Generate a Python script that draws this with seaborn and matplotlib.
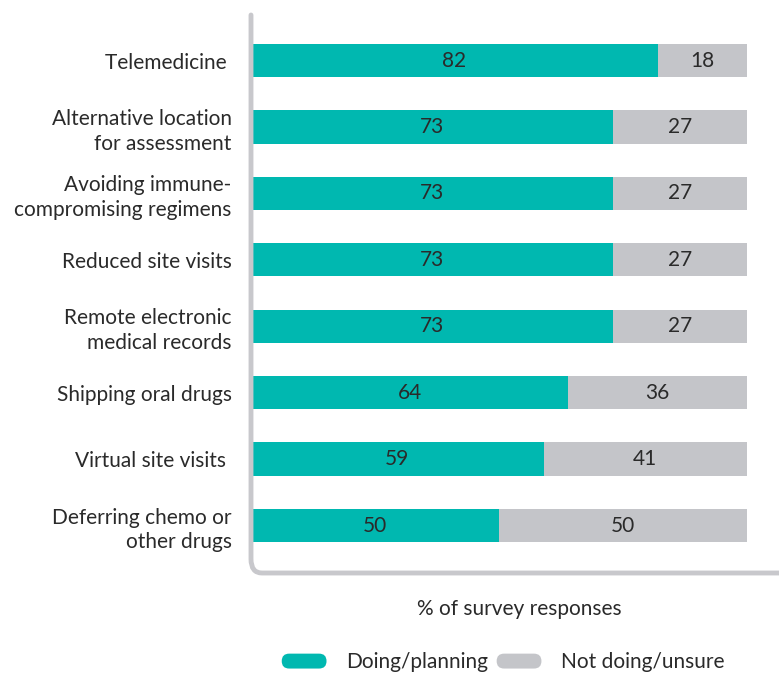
import matplotlib
matplotlib.use("Agg")
import matplotlib.pyplot as plt
import seaborn as sns
import pandas as pd
from matplotlib.patches import FancyBboxPatch, Patch
from matplotlib.legend_handler import HandlerPatch
from matplotlib.path import Path
from matplotlib.patches import PathPatch

categories = [
    "Telemedicine ",
    "Alternative location\nfor assessment",
    "Avoiding immune-\ncompromising regimens",
    "Reduced site visits",
    "Remote electronic\nmedical records",
    "Shipping oral drugs",
    "Virtual site visits ",
    "Deferring chemo or\nother drugs",
]
doing = [82, 73, 73, 73, 73, 64, 59, 50]
not_doing = [18, 27, 27, 27, 27, 36, 41, 50]
series_names = ["Doing/planning", "Not doing/unsure"]
xlabel = "% of survey responses"

TEAL = "#00B8B0"
GREY = "#C4C5C9"
SPINE = "#C8C8CC"
TXT = "#2a2a2a"
FS = 15

sns.set_theme(style="white")
plt.rcParams["font.family"] = ["Lato", "DejaVu Sans"]

df = pd.DataFrame({"category": categories, "doing": doing, "not_doing": not_doing})
df["total"] = df["doing"] + df["not_doing"]

fig = plt.figure(figsize=(7.79, 6.73), dpi=100)
ax = fig.add_axes([251 / 779, 1 - 573 / 673, 1 - 251 / 779, (573 - 15) / 673])

sns.barplot(data=df, y="category", x="total", color=GREY, orient="h",
            width=0.5, ax=ax, saturation=1, linewidth=0)
sns.barplot(data=df, y="category", x="doing", color=TEAL, orient="h",
            width=0.5, ax=ax, saturation=1, linewidth=0)

ax.set_xlim(0, 106.5)
ax.set_ylim(7.715, -0.685)
ax.set_xlabel("")
ax.set_ylabel("")
ax.set_xticks([])
ax.tick_params(axis="y", length=0, pad=14, labelsize=FS, labelcolor=TXT)
for lab in ax.get_yticklabels():
    lab.set_linespacing(1.3)
for s in ax.spines.values():
    s.set_visible(False)

# value labels
for i, (d, n) in enumerate(zip(doing, not_doing)):
    ax.text(d / 2, i, str(d), ha="center", va="center", fontsize=FS, color=TXT)
    ax.text(d + n / 2, i, str(n), ha="center", va="center", fontsize=FS, color=TXT)

# rounded L-shaped axis frame
r = 0.025
verts = [(0, 1), (0, r), (0, 0), (r * 0.83, 0), (1.2, 0)]
codes = [Path.MOVETO, Path.LINETO, Path.CURVE3, Path.CURVE3, Path.LINETO]
frame = PathPatch(Path(verts, codes), transform=ax.transAxes, fill=False,
                  edgecolor=SPINE, linewidth=3.5, capstyle="round", clip_on=False)
ax.add_patch(frame)

fig.text(519 / 779, 1 - 609 / 673, xlabel, ha="center", va="center",
         fontsize=FS, color=TXT)


class PillHandler(HandlerPatch):
    def create_artists(self, legend, orig_handle, xdescent, ydescent, width,
                       height, fontsize, trans):
        p = FancyBboxPatch((-xdescent, -ydescent + height * 0.1),
                           width, height * 0.8,
                           boxstyle=f"round,pad=0,rounding_size={height * 0.4}",
                           facecolor=orig_handle.get_facecolor(), edgecolor="none",
                           transform=trans)
        return [p]


handles = [Patch(facecolor=TEAL), Patch(facecolor=GREY)]
fig.legend(handles, series_names, loc="center", bbox_to_anchor=(0.646, 1 - 662 / 673),
           ncol=2, frameon=False, fontsize=FS, handler_map={Patch: PillHandler()},
           handlelength=2.15, handleheight=1.0, columnspacing=0.4, handletextpad=0.95,
           labelcolor=TXT)

fig.savefig("out.png", dpi=100)
